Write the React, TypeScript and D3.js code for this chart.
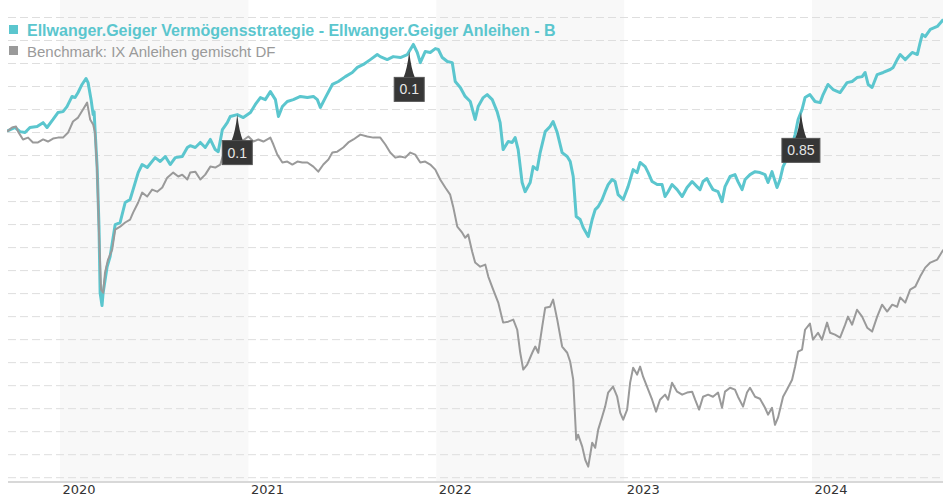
import { useEffect, useRef } from 'react';
import * as d3 from 'd3';

// series names (legend)
const seriesNames = [
  'Ellwanger.Geiger Vermögensstrategie - Ellwanger.Geiger Anleihen - B',
  'Benchmark: IX Anleihen gemischt DF',
];

// fund performance, % (decimal year / value)
const fundYears = [
  2019.718, 2019.761, 2019.787, 2019.814, 2019.84, 2019.878, 2019.91, 2019.931, 2019.963, 2019.989,
  2020.016, 2020.037, 2020.064, 2020.08, 2020.096, 2020.117, 2020.138, 2020.149, 2020.165, 2020.176,
  2020.181, 2020.186, 2020.197, 2020.207, 2020.213, 2020.223, 2020.229, 2020.25, 2020.266, 2020.293,
  2020.319, 2020.346, 2020.372, 2020.388, 2020.415, 2020.436, 2020.463, 2020.505, 2020.532, 2020.559,
  2020.585, 2020.612, 2020.649, 2020.676, 2020.691, 2020.718, 2020.745, 2020.771, 2020.798, 2020.824,
  2020.84, 2020.862, 2020.888, 2020.904, 2020.941, 2020.973, 2021.011, 2021.037, 2021.064, 2021.09,
  2021.117, 2021.144, 2021.16, 2021.181, 2021.207, 2021.239, 2021.277, 2021.314, 2021.346, 2021.367,
  2021.383, 2021.41, 2021.447, 2021.479, 2021.516, 2021.553, 2021.58, 2021.612, 2021.649, 2021.686,
  2021.702, 2021.739, 2021.771, 2021.809, 2021.846, 2021.878, 2021.899, 2021.915, 2021.941, 2021.968,
  2021.995, 2022.011, 2022.032, 2022.059, 2022.085, 2022.101, 2022.128, 2022.154, 2022.181, 2022.207,
  2022.223, 2022.25, 2022.271, 2022.298, 2022.324, 2022.34, 2022.356, 2022.383, 2022.404, 2022.42,
  2022.436, 2022.457, 2022.473, 2022.5, 2022.516, 2022.537, 2022.553, 2022.58, 2022.606, 2022.622,
  2022.644, 2022.67, 2022.697, 2022.713, 2022.729, 2022.745, 2022.766, 2022.782, 2022.809, 2022.83,
  2022.846, 2022.862, 2022.883, 2022.899, 2022.915, 2022.936, 2022.952, 2022.968, 2022.995, 2023.021,
  2023.048, 2023.069, 2023.085, 2023.112, 2023.128, 2023.149, 2023.176, 2023.202, 2023.218, 2023.234,
  2023.255, 2023.282, 2023.309, 2023.335, 2023.362, 2023.388, 2023.404, 2023.42, 2023.441, 2023.457,
  2023.473, 2023.5, 2023.521, 2023.537, 2023.564, 2023.59, 2023.606, 2023.628, 2023.644, 2023.67,
  2023.697, 2023.723, 2023.75, 2023.766, 2023.787, 2023.814, 2023.83, 2023.846, 2023.883, 2023.91,
  2023.926, 2023.947, 2023.963, 2023.989, 2024.016, 2024.043, 2024.059, 2024.085, 2024.112, 2024.149,
  2024.186, 2024.213, 2024.239, 2024.266, 2024.282, 2024.298, 2024.319, 2024.346, 2024.378, 2024.415,
  2024.431, 2024.452, 2024.468, 2024.495, 2024.532, 2024.559, 2024.574, 2024.585, 2024.601, 2024.628,
  2024.665, 2024.697,
];
const fundValues = [
  0.06, 0.22, 0.04, 0, 0.22, 0.26, 0.43, 0.22, 0.57, 0.87,
  0.91, 1.13, 1.57, 1.52, 1.74, 2.09, 2.35, 2.17, 1.43, 0.78,
  0.91, 0.13, -1.48, -4.09, -6.96, -7.52, -6.96, -5.83, -5.39, -4.0,
  -3.91, -3.04, -2.91, -2.48, -1.74, -1.39, -1.52, -1.09, -1.26, -1.04,
  -1.39, -1.09, -1.04, -0.65, -0.57, -0.65, -0.43, -0.65, -0.3, -0.74,
  -0.83, 0.13, 0.43, 0.7, 0.78, 0.65, 0.87, 1.22, 1.52, 1.43,
  1.78, 1.43, 0.7, 1.13, 1.35, 1.43, 1.57, 1.52, 1.57, 1.43,
  1.09, 1.52, 2.09, 2.22, 2.43, 2.61, 2.83, 2.96, 3.17, 3.39,
  3.3, 3.17, 3.3, 3.26, 3.39, 3.83, 3.48, 3.04, 3.52, 3.48,
  3.65, 3.61, 3.26, 3.09, 3.04, 2.22, 1.96, 1.57, 1.35, 0.57,
  1.13, 1.52, 1.65, 1.43, 0.91, 0.43, -0.74, -0.39, -0.43, -0.22,
  -0.74, -2.17, -2.57, -2.17, -1.48, -1.61, -0.87, 0.04, 0.26, 0.48,
  0, -0.87, -1.04, -1.26, -1.91, -3.65, -3.78, -4.13, -4.52, -3.78,
  -3.35, -3.22, -2.91, -2.57, -2.26, -2.04, -2.13, -2.7, -2.91, -2.35,
  -1.61, -1.74, -1.3, -1.48, -1.74, -2.13, -2.26, -2.26, -2.78, -2.57,
  -2.26, -2.48, -2.78, -2.39, -2.13, -2.35, -2.48, -2.13, -2.0, -2.26,
  -2.48, -2.57, -3.0, -2.35, -1.91, -1.83, -2.13, -2.48, -2.04, -1.83,
  -1.7, -1.74, -1.83, -2.17, -1.7, -2.39, -2.04, -1.48, -0.87, -0.09,
  0.57, 1.0, 1.52, 1.65, 1.35, 1.3, 1.65, 2.09, 1.87, 1.74,
  2.17, 2.22, 2.39, 2.43, 2.61, 2.09, 1.96, 2.52, 2.61, 2.74,
  2.83, 3.17, 3.39, 3.17, 3.48, 3.39, 3.91, 4.26, 4.17, 4.48,
  4.61, 4.91,
];

// benchmark performance, %
const benchYears = [
  2019.718, 2019.745, 2019.766, 2019.777, 2019.803, 2019.83, 2019.856, 2019.883, 2019.91, 2019.936,
  2019.963, 2019.989, 2020.016, 2020.043, 2020.069, 2020.096, 2020.122, 2020.144, 2020.16, 2020.176,
  2020.186, 2020.197, 2020.207, 2020.218, 2020.229, 2020.239, 2020.255, 2020.277, 2020.293, 2020.319,
  2020.346, 2020.372, 2020.388, 2020.415, 2020.436, 2020.463, 2020.489, 2020.516, 2020.543, 2020.569,
  2020.601, 2020.628, 2020.649, 2020.676, 2020.691, 2020.718, 2020.745, 2020.771, 2020.798, 2020.824,
  2020.851, 2020.867, 2020.904, 2020.957, 2021.0, 2021.027, 2021.053, 2021.08, 2021.117, 2021.133,
  2021.154, 2021.181, 2021.207, 2021.234, 2021.261, 2021.287, 2021.314, 2021.346, 2021.372, 2021.399,
  2021.426, 2021.447, 2021.473, 2021.505, 2021.532, 2021.559, 2021.596, 2021.633, 2021.665, 2021.702,
  2021.729, 2021.755, 2021.782, 2021.809, 2021.835, 2021.862, 2021.888, 2021.915, 2021.941, 2021.968,
  2021.995, 2022.021, 2022.048, 2022.074, 2022.09, 2022.112, 2022.138, 2022.154, 2022.17, 2022.191,
  2022.207, 2022.234, 2022.261, 2022.277, 2022.303, 2022.33, 2022.356, 2022.383, 2022.41, 2022.431,
  2022.447, 2022.463, 2022.484, 2022.511, 2022.527, 2022.543, 2022.564, 2022.58, 2022.606, 2022.622,
  2022.644, 2022.67, 2022.697, 2022.713, 2022.729, 2022.745, 2022.755, 2022.777, 2022.793, 2022.809,
  2022.83, 2022.846, 2022.862, 2022.883, 2022.899, 2022.915, 2022.941, 2022.963, 2022.979, 2022.995,
  2023.016, 2023.032, 2023.048, 2023.069, 2023.085, 2023.101, 2023.128, 2023.149, 2023.17, 2023.191,
  2023.218, 2023.234, 2023.255, 2023.282, 2023.309, 2023.335, 2023.362, 2023.378, 2023.399, 2023.42,
  2023.447, 2023.473, 2023.5, 2023.521, 2023.537, 2023.564, 2023.59, 2023.606, 2023.633, 2023.654,
  2023.67, 2023.697, 2023.723, 2023.75, 2023.766, 2023.787, 2023.803, 2023.819, 2023.846, 2023.867,
  2023.894, 2023.91, 2023.926, 2023.947, 2023.963, 2023.989, 2024.005, 2024.032, 2024.053, 2024.08,
  2024.096, 2024.122, 2024.149, 2024.176, 2024.191, 2024.213, 2024.239, 2024.266, 2024.293, 2024.319,
  2024.346, 2024.372, 2024.399, 2024.426, 2024.452, 2024.468, 2024.495, 2024.521, 2024.548, 2024.574,
  2024.601, 2024.628, 2024.665, 2024.697,
];
const benchValues = [
  0.04, 0.22, 0.26, 0.04, -0.3, -0.22, -0.43, -0.43, -0.3, -0.39,
  -0.26, -0.22, -0.22, 0, 0.48, 0.65, 1.0, 1.3, 0.57, 0.35,
  0, -1.61, -4.35, -6.83, -6.96, -6.09, -5.52, -5.09, -4.22, -4.09,
  -3.91, -3.78, -3.48, -3.04, -2.61, -2.78, -2.48, -2.57, -2.39, -1.96,
  -1.74, -1.91, -1.83, -2.04, -1.74, -1.7, -2.04, -1.83, -1.48, -1.52,
  -1.39, -0.96, -0.65, -0.43, -0.17, -0.39, -0.3, -0.39, -0.22, -0.52,
  -0.96, -1.3, -1.26, -1.39, -1.26, -1.3, -1.3, -1.48, -1.7, -1.39,
  -1.17, -0.87, -0.83, -0.65, -0.43, -0.3, -0.09, -0.17, -0.22, -0.22,
  -0.52, -0.87, -1.09, -1.04, -1.09, -0.87, -0.96, -1.3, -1.26, -1.39,
  -1.61, -2.04, -2.39, -2.7, -3.22, -4.09, -4.35, -4.57, -4.43, -5.17,
  -5.65, -5.83, -5.74, -6.26, -6.83, -7.39, -8.26, -8.22, -8.13, -8.57,
  -9.57, -10.3, -10.09, -9.57, -9.3, -9.57, -8.43, -7.61, -7.57, -7.26,
  -8.13, -9.3, -9.57, -9.96, -10.74, -13.35, -13.13, -13.65, -14.22, -14.52,
  -13.48, -13.7, -12.91, -12.35, -11.91, -11.3, -11.04, -11.48, -12.17, -12.48,
  -12.04, -10.87, -10.22, -10.52, -10.17, -10.61, -11.17, -11.61, -12.13, -11.61,
  -11.39, -11.61, -10.87, -11.26, -11.39, -11.3, -11.26, -11.61, -12.04, -11.48,
  -11.39, -11.48, -11.3, -11.96, -11.26, -11.09, -11.17, -11.48, -11.91, -11.3,
  -11.09, -11.48, -11.57, -11.96, -12.26, -11.96, -12.7, -12.39, -11.48, -11.17,
  -10.74, -10.17, -9.52, -9.43, -8.57, -8.3, -9.0, -8.7, -9.0, -8.26,
  -8.7, -8.78, -8.91, -8.35, -8.0, -8.35, -7.7, -8.0, -8.48, -8.65,
  -8.0, -7.48, -7.78, -7.48, -7.57, -7.17, -7.39, -6.83, -6.7, -6.26,
  -5.87, -5.65, -5.52, -5.09,
];

// distributions shown as flags on the fund line
const dividendYears = [2020.941, 2021.856, 2023.941];
const dividendLabels = ['0.1', '0.1', '0.85'];

const yearTicks = [2020, 2021, 2022, 2023, 2024];

const W = 943;
const H = 500;
const teal = '#5bc6ce';
const grey = '#9a9a9a';

function toDate(t: number) {
  const yr = Math.floor(t);
  const a = new Date(yr, 0, 1).getTime();
  const b = new Date(yr + 1, 0, 1).getTime();
  return new Date(a + (t - yr) * (b - a));
}

const x = d3.scaleTime()
  .domain([new Date(2020, 0, 1), new Date(2024, 0, 1)])
  .range([60, 812]);
const y = d3.scaleLinear().domain([-15, 5]).range([477.7, 17.5]);

const fund: [Date, number][] = fundYears.map((t, i) => [toDate(t), fundValues[i]]);
const bench: [Date, number][] = benchYears.map((t, i) => [toDate(t), benchValues[i]]);

const line = d3.line<[Date, number]>()
  .x(d => x(d[0]))
  .y(d => y(d[1]));

// value of the fund line at a date, for the flag tips
function fundAt(t: number) {
  const i = d3.bisectLeft(fundYears, t);
  if (i <= 0) return fundValues[0];
  if (i >= fundYears.length) return fundValues[fundValues.length - 1];
  const k = (t - fundYears[i - 1]) / (fundYears[i] - fundYears[i - 1]);
  return fundValues[i - 1] + k * (fundValues[i] - fundValues[i - 1]);
}

export default function App() {
  const axisRef = useRef<SVGGElement | null>(null);

  useEffect(() => {
    if (!axisRef.current) return;
    const g = d3.select(axisRef.current);
    g.selectAll('*').remove();
    g.call(
      d3.axisBottom<Date>(x)
        .tickValues(yearTicks.map(yr => new Date(yr, 0, 1)))
        .tickFormat(d3.timeFormat('%Y'))
        .tickSize(0)
    );
    g.select('.domain').remove();
    g.selectAll('text')
      .attr('text-anchor', 'start')
      .attr('x', 2)
      .attr('fill', '#333')
      .style('font-family', '"DejaVu Sans", Verdana, sans-serif')
      .style('font-size', '13px');
  }, []);

  const bottom = 481;

  return (
    <svg width={W} height={H} style={{ position: 'absolute', left: 0, top: 0, background: '#fff' }}>
      <defs>
        <clipPath id="plot">
          <rect x={7} y={0} width={W - 7} height={bottom} />
        </clipPath>
      </defs>

      {/* alternate year bands */}
      {yearTicks.filter((_, i) => i % 2 === 0).map(yr => {
        const x0 = x(new Date(yr, 0, 1));
        const x1 = Math.min(W, x(new Date(yr + 1, 0, 1)));
        return <rect key={yr} x={x0} y={0} width={x1 - x0} height={bottom} fill="#f8f8f8" />;
      })}

      {/* grid */}
      {y.ticks(20).map(v => (
        <line key={v} x1={8} x2={W} y1={y(v)} y2={y(v)}
          stroke="#dedede" strokeWidth={1} strokeDasharray="8,4" />
      ))}
      <line x1={8} x2={W} y1={482} y2={482} stroke="#d8d8d8" strokeWidth={2} />
      <g ref={axisRef} transform="translate(0,482)" />

      <g clipPath="url(#plot)">
        <path d={line(fund) || ''} fill="none" stroke={teal} strokeWidth={3} strokeLinejoin="round" />
        <path d={line(bench) || ''} fill="none" stroke={grey} strokeWidth={2} strokeLinejoin="round" />
      </g>

      {/* distribution flags */}
      {dividendYears.map((t, i) => {
        const cx = x(toDate(t));
        const tipY = y(fundAt(t));
        const top = tipY + 26;
        const label = dividendLabels[i];
        const bw = label.length * 8 + 6;
        return (
          <g key={i}>
            <path
              d={`M${cx - 6},${top + 1} Q${cx - 2},${top - 8} ${cx},${tipY} Q${cx + 2},${top - 8} ${cx + 6},${top + 1} Z`}
              fill="#363636"
            />
            <rect x={cx - bw / 2} y={top} width={bw} height={24} fill="#363636" stroke="#555" strokeWidth={1} />
            <text x={cx} y={top + 17} textAnchor="middle" fill="#e6e6e6"
              style={{ fontFamily: '"Liberation Sans", Arial, sans-serif', fontSize: '14px' }}>
              {label}
            </text>
          </g>
        );
      })}

      {/* legend */}
      <g style={{ fontFamily: '"Liberation Sans", Arial, sans-serif' }}>
        <rect x={9} y={25} width={9} height={9} fill={teal} />
        <text x={27} y={36} fill={teal} fontWeight="bold" style={{ fontSize: '16px' }}>{seriesNames[0]}</text>
        <rect x={9} y={46} width={9} height={9} fill={grey} />
        <text x={27} y={57} fill={grey} style={{ fontSize: '15px' }}>{seriesNames[1]}</text>
      </g>
    </svg>
  );
}
